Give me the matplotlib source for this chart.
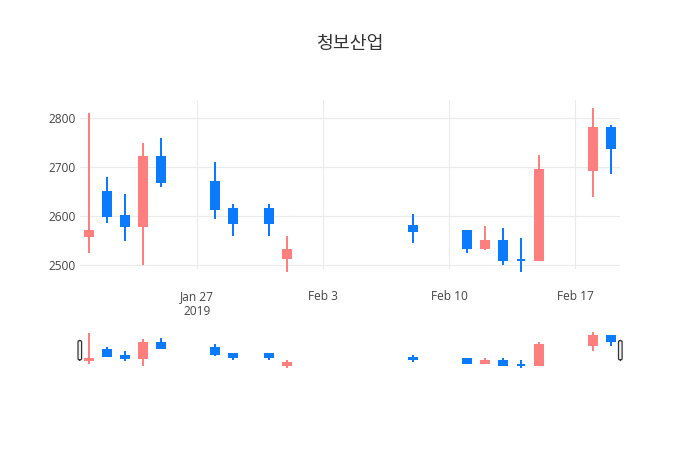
import matplotlib
matplotlib.use("Agg")
import matplotlib.pyplot as plt
import matplotlib.dates as mdates
from matplotlib.patches import FancyBboxPatch
import numpy as np
import pandas as pd

title = "청보산업"
dates = ["2019-01-21", "2019-01-22", "2019-01-23", "2019-01-24", "2019-01-25",
         "2019-01-28", "2019-01-29", "2019-01-31", "2019-02-01", "2019-02-08",
         "2019-02-11", "2019-02-12", "2019-02-13", "2019-02-14", "2019-02-15",
         "2019-02-18", "2019-02-19"]
opens = [2560, 2650, 2600, 2580, 2720, 2670, 2615, 2615, 2515, 2580,
         2570, 2535, 2550, 2510, 2510, 2695, 2780]
highs = [2810, 2680, 2645, 2750, 2760, 2710, 2625, 2625, 2560, 2605,
         2570, 2580, 2575, 2555, 2725, 2820, 2785]
lows = [2525, 2585, 2550, 2500, 2660, 2595, 2560, 2560, 2485, 2545,
        2525, 2530, 2500, 2485, 2510, 2640, 2685]
closes = [2570, 2600, 2580, 2720, 2670, 2615, 2585, 2585, 2530, 2570,
          2535, 2550, 2510, 2510, 2695, 2780, 2740]
y_ticks = [2500, 2600, 2700, 2800]
x_tick_dates = ["2019-01-27", "2019-02-03", "2019-02-10", "2019-02-17"]
x_tick_labels = ["Jan 27\n2019", "Feb 3", "Feb 10", "Feb 17"]

UP = "#FF7F7F"
DOWN = "#0A7BFF"
TXT = "#444444"
GRID = "#EBEBEB"

plt.rcParams['font.family'] = ['Open Sans', 'Noto Sans CJK KR', 'DejaVu Sans']

W, H = 700, 450
fig = plt.figure(figsize=(7, 4.5), dpi=100)

x = mdates.date2num(pd.to_datetime(dates).to_pydatetime())
xt = mdates.date2num(pd.to_datetime(x_tick_dates).to_pydatetime())
xlim = (x[0] - 0.5, x[-1] + 0.5)

def px_axes(l, t, r, b):
    return fig.add_axes([l / W, 1 - b / H, (r - l) / W, (b - t) / H])

ax = px_axes(80, 100, 620, 269)
rs = px_axes(80, 329.5, 620, 370)

def draw(a, lw):
    for xi, o, h, l, c in zip(x, opens, highs, lows, closes):
        col = UP if c > o else DOWN
        a.vlines(xi, l, h, color=col, linewidth=lw, zorder=2, clip_on=False)
        a.bar(xi, max(abs(c - o), 0.01), bottom=min(o, c), width=0.48,
              color=col, edgecolor=col, linewidth=lw, zorder=3, clip_on=False)

draw(ax, 1.44)
draw(rs, 1.44)

ax.set_xlim(*xlim)
ax.set_ylim(2492, 2837)
ax.set_yticks(y_ticks)
ax.set_yticklabels([str(v) for v in y_ticks])
ax.set_xticks(xt)
ax.set_xticklabels(x_tick_labels, linespacing=1.25)
ax.grid(True, color=GRID, linewidth=0.8, zorder=0)
ax.set_axisbelow(True)
for s in ax.spines.values():
    s.set_visible(False)
ax.tick_params(axis='both', length=0, labelsize=8.6, colors=TXT)
ax.tick_params(axis='y', pad=3)
ax.tick_params(axis='x', pad=15)

rs.set_xlim(*xlim)
rs.set_ylim(2466, 2843)
rs.set_xticks([])
rs.set_yticks([])
for s in rs.spines.values():
    s.set_visible(False)

for cx in (79.8, 620.3):
    fig.add_artist(FancyBboxPatch(((cx - 1.8) / W, 1 - 360 / H), 3.6 / W, 19.5 / H,
                                  boxstyle="round,pad=0,rounding_size=0.003",
                                  transform=fig.transFigure, facecolor="#F2F2F2",
                                  edgecolor="#333333", linewidth=0.9, zorder=10))

fig.text(350 / W, 1 - 44 / H, title, ha='center', va='center', fontsize=13.2,
         color="#333333", family=['Noto Sans CJK KR', 'DejaVu Sans'])

fig.savefig("out.png", dpi=100, facecolor="white")
